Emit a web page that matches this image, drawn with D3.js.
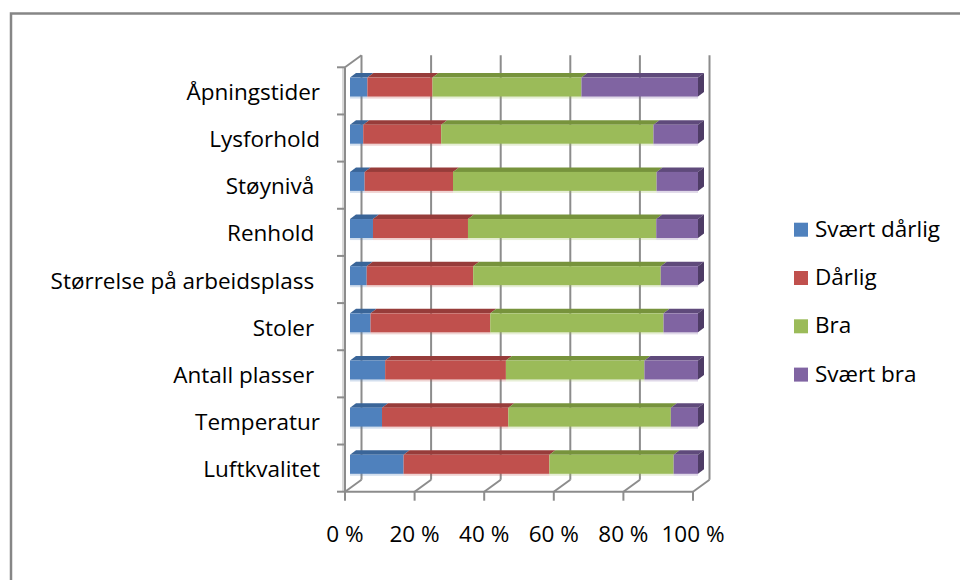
<!DOCTYPE html>
<html>
<head>
<meta charset="utf-8">
<script src="https://cdn.jsdelivr.net/npm/d3@7"></script>
<style>
  html, body { margin: 0; padding: 0; background: #fff; }
  svg { display: block; }
  text { font-family: "Open Sans", "Liberation Sans", sans-serif; white-space: pre; }
</style>
</head>
<body>
<svg id="chart" width="960" height="580"></svg>
<script>
// ---- data ----
const categories = ["Åpningstider", "Lysforhold", "Støynivå ", "Renhold ", "Størrelse på arbeidsplass ", "Stoler ", "Antall plasser ", "Temperatur", "Luftkvalitet"];
const seriesNames = ["Svært dårlig", "Dårlig", "Bra", "Svært bra"];
const sværtDårlig = [5.0, 3.8, 4.2, 6.6, 4.8, 5.9, 10.1, 9.2, 15.4];
const dårlig      = [18.7, 22.4, 25.4, 27.3, 30.6, 34.4, 34.7, 36.3, 41.9];
const bra         = [42.8, 61.0, 58.5, 54.1, 53.9, 49.8, 39.8, 46.7, 35.7];
const sværtBra    = [33.5, 12.8, 11.9, 12.0, 10.7, 9.9, 15.4, 7.8, 7.0];
const tickValues = [0, 20, 40, 60, 80, 100];
const tickLabels = ["0 %", "20 %", "40 %", "60 %", "80 %", "100 %"];

const frontColors = ["#4F81BD", "#C0504D", "#9BBB59", "#8064A2"];
const topColors   = ["#3A6598", "#973C3A", "#77933C", "#5F4A7B"];
const sideColor   = "#4E3C66";

const rows = categories.map((c, i) => ({ cat: c, vals: [sværtDårlig[i], dårlig[i], bra[i], sværtBra[i]] }));

const svg = d3.select("#chart");
const gridCol = "#8C8C8C";

// outer frame (chart area cropped)
svg.append("rect").attr("x", 11).attr("y", 13.5).attr("width", 1000).attr("height", 700)
  .attr("fill", "none").attr("stroke", "#868686").attr("stroke-width", 2.5);

// scales (front plane)
const x = d3.scaleLinear().domain([0, 100]).range([345, 693]);
const y = d3.scaleBand().domain(categories).range([67.3, 491.7]).paddingInner(0).paddingOuter(0);
const depth = { dx: 16.5, dy: -12 };
const yBottom = 491.7, yTop = 67.3;

const walls = svg.append("g");
// back wall gridlines
walls.selectAll("line.grid").data(tickValues).join("line")
  .attr("x1", d => x(d) + depth.dx).attr("x2", d => x(d) + depth.dx)
  .attr("y1", yTop + depth.dy).attr("y2", yBottom + depth.dy)
  .attr("stroke", gridCol).attr("stroke-width", 2);
// floor diagonals
walls.selectAll("line.floor").data(tickValues).join("line")
  .attr("x1", d => x(d)).attr("x2", d => x(d) + depth.dx)
  .attr("y1", yBottom).attr("y2", yBottom + depth.dy)
  .attr("stroke", gridCol).attr("stroke-width", 2);
// floor front edge
walls.append("line").attr("x1", x(0)).attr("x2", x(100)).attr("y1", yBottom).attr("y2", yBottom)
  .attr("stroke", gridCol).attr("stroke-width", 2);
// left wall top diagonal
walls.append("line").attr("x1", x(0)).attr("x2", x(0) + depth.dx).attr("y1", yTop).attr("y2", yTop + depth.dy)
  .attr("stroke", gridCol).attr("stroke-width", 2);
// left wall front edge (light)
walls.append("line").attr("x1", x(0) - 2).attr("x2", x(0) - 2).attr("y1", yTop).attr("y2", yBottom)
  .attr("stroke", "#D9D9D9").attr("stroke-width", 2);
walls.append("line").attr("x1", x(0)).attr("x2", x(0)).attr("y1", yTop).attr("y2", yBottom)
  .attr("stroke", gridCol).attr("stroke-width", 2);

// category ticks
const yBounds = categories.map(c => y(c)).concat([yBottom]);
walls.selectAll("line.ytick").data(yBounds).join("line")
  .attr("x1", x(0) - 8).attr("x2", x(0)).attr("y1", d => d).attr("y2", d => d)
  .attr("stroke", gridCol).attr("stroke-width", 2);
// value ticks
walls.selectAll("line.xtick").data(tickValues).join("line")
  .attr("x1", d => x(d)).attr("x2", d => x(d)).attr("y1", yBottom).attr("y2", yBottom + 9)
  .attr("stroke", gridCol).attr("stroke-width", 2);

// bars
const barOff = { dx: 5, dy: -3.8 };
const barH = 19;
const topD = { dx: 6, dy: -4.5 };
const barsG = svg.append("g");
rows.forEach(r => {
  const cy = y(r.cat) + y.bandwidth() / 2 + barOff.dy;
  const y0 = cy - barH / 2;
  let acc = 0;
  const segs = r.vals.map((v, i) => { const s = { i, a: acc, b: acc + v }; acc += v; return s; });
  const g = barsG.append("g");
  // reflection strip
  segs.forEach(s => {
    g.append("rect").attr("x", x(s.a) + barOff.dx).attr("y", y0 + barH)
      .attr("width", x(s.b) - x(s.a)).attr("height", 2)
      .attr("fill", frontColors[s.i]).attr("opacity", 0.25);
  });
  segs.forEach(s => {
    const xa = x(s.a) + barOff.dx, xb = x(s.b) + barOff.dx;
    g.append("path")
      .attr("d", `M${xa},${y0} L${xa + topD.dx},${y0 + topD.dy} L${xb + topD.dx},${y0 + topD.dy} L${xb},${y0} Z`)
      .attr("fill", topColors[s.i]);
    g.append("rect").attr("x", xa).attr("y", y0).attr("width", xb - xa).attr("height", barH)
      .attr("fill", frontColors[s.i]);
  });
  const last = segs[segs.length - 1];
  const xe = x(last.b) + barOff.dx;
  g.append("path")
    .attr("d", `M${xe},${y0} L${xe + topD.dx},${y0 + topD.dy} L${xe + topD.dx},${y0 + barH + topD.dy} L${xe},${y0 + barH} Z`)
    .attr("fill", sideColor);
});

// category labels
svg.append("g").selectAll("text").data(categories).join("text")
  .attr("x", 320).attr("y", d => y(d) + y.bandwidth() / 2 + 9)
  .attr("text-anchor", "end").attr("font-size", 22.5).attr("fill", "#000")
  .text(d => d);

// tick labels
svg.append("g").selectAll("text").data(tickValues).join("text")
  .attr("x", d => x(d)).attr("y", 541.7)
  .attr("text-anchor", "middle").attr("font-size", 22.5).attr("fill", "#000")
  .text((d, i) => tickLabels[i]);

// legend
const lg = svg.append("g");
seriesNames.forEach((n, i) => {
  const cy = 229.7 + i * 48.3;
  lg.append("rect").attr("x", 794).attr("y", cy - 7).attr("width", 14).attr("height", 14).attr("fill", frontColors[i]);
  lg.append("text").attr("x", 815).attr("y", cy + 7).attr("font-size", 22.5).attr("fill", "#000").text(n);
});
</script>
</body>
</html>
